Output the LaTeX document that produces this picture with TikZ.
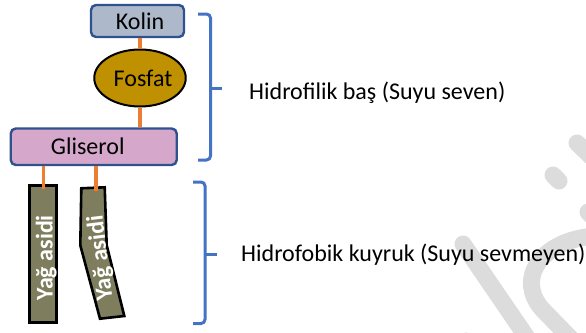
\documentclass[tikz,border=0pt]{standalone}
\usepackage{fontspec}
\setmainfont{Carlito}
\usetikzlibrary{shapes.geometric}

\definecolor{kolinfill}{HTML}{ADB9CA}
\definecolor{boxline}{HTML}{2F528F}
\definecolor{gliserolfill}{HTML}{D5A8CB}
\definecolor{fosfatfill}{HTML}{BF9000}
\definecolor{tailfill}{HTML}{7E7E5E}
\definecolor{linkorange}{HTML}{ED7D31}
\definecolor{braceblue}{HTML}{4472C4}
\definecolor{markgray}{HTML}{DCDCDC}

\tikzset{
  headbox/.style={draw=boxline, line width=2.4pt, rounded corners=5pt, inner sep=0pt},
  fosfatnode/.style={ellipse, draw=black, line width=2pt, fill=fosfatfill, inner sep=0pt,
    minimum width=68pt, minimum height=57pt},
  tailshape/.style={draw=black, line width=2.6pt, fill=tailfill},
  tailtext/.style={text=white, font=\fontsize{24}{28}\selectfont\bfseries, inner sep=0pt},
  bondline/.style={draw=linkorange, line width=3.5pt},
  bracket/.style={draw=braceblue, line width=3pt, rounded corners=4pt},
  logostroke/.style={draw=markgray, line width=17pt, line cap=round},
  sidetext/.style={anchor=base west, inner sep=0pt}
}

\begin{document}
\begin{tikzpicture}[x=1pt, y=-1pt, font=\fontsize{24}{28}\selectfont]
\useasboundingbox (0,0) rectangle (586,332);

% faint background logo strokes
\begin{scope}
  \clip (0,0) rectangle (586,332);
  \draw[logostroke] (577,143) -- (605,170);
  \draw[logostroke] (553,175) -- (559,181);
  \draw[logostroke] (588,212) -- (610,235);
  \draw[logostroke] (595,236) .. controls (540,240) and (515,280) .. (543,310) -- (580,348);
  \draw[logostroke] (463,244) -- (530,342);
  \fill[markgray] (466,342) circle (9.5);
\end{scope}

% head group
\node[headbox, fill=kolinfill, minimum width=93pt, minimum height=32pt] (kolin) at (137.5,21) {\hspace*{5pt}Kolin};
\node[fosfatnode] (fosfat) at (140,78) {\hspace*{6pt}Fosfat};
\node[headbox, fill=gliserolfill, minimum width=166pt, minimum height=36.5pt] (gliserol)
  at (93.75,146.75) {\hspace*{-12pt}\raisebox{-6pt}{Gliserol}};

% fatty acid tails
\node[tailshape, rectangle, inner sep=0pt, minimum width=27.4pt, minimum height=137.4pt] (tail1) at (43,254) {};
\node[tailtext, rotate=90, anchor=base] (tail1text) at (52.5,258) {Yağ asidi};

\coordinate (t2a) at (81.3,188.3);
\coordinate (t2b) at (104.7,187.3);
\coordinate (t2c) at (106.7,245.2);
\coordinate (t2d) at (124.3,316);
\coordinate (t2e) at (100,318.7);
\coordinate (t2f) at (80.3,245.3);
\draw[tailshape, line join=miter] (t2a) -- (t2b) -- (t2c) -- (t2d) -- (t2e) -- (t2f) -- cycle;
\node[tailtext, rotate=97, anchor=base] (tail2text) at (107.5,257.5) {Yağ asidi};

% orange bonds
\coordinate (t1top) at (43.5,189);
\coordinate (t2top) at (96,191);
\draw[bondline] (fosfat.north |- kolin.south) -- (fosfat.north);
\draw[bondline] (fosfat.south) -- (fosfat.south |- gliserol.north);
\draw[bondline] (gliserol.south -| t1top) -- (t1top);
\draw[bondline] (gliserol.south -| t2top) -- (t2top);

% braces
\draw[bracket] (198,14) -- (210.5,14) -- (210.5,160) -- (198,160);
\draw[braceblue, line width=3pt] (210.5,88) -- (222,88);
\draw[bracket] (193,182) -- (205,182) -- (205,323.5) -- (193,323.5);
\draw[braceblue, line width=3pt] (205,254) -- (217,254);

% side labels
\node[sidetext] (philic) at (249,99) {Hidrofilik baş (Suyu seven)};
\node[sidetext] (phobic) at (241,261) {Hidrofobik kuyruk (Suyu sevmeyen)};
\end{tikzpicture}
\end{document}
